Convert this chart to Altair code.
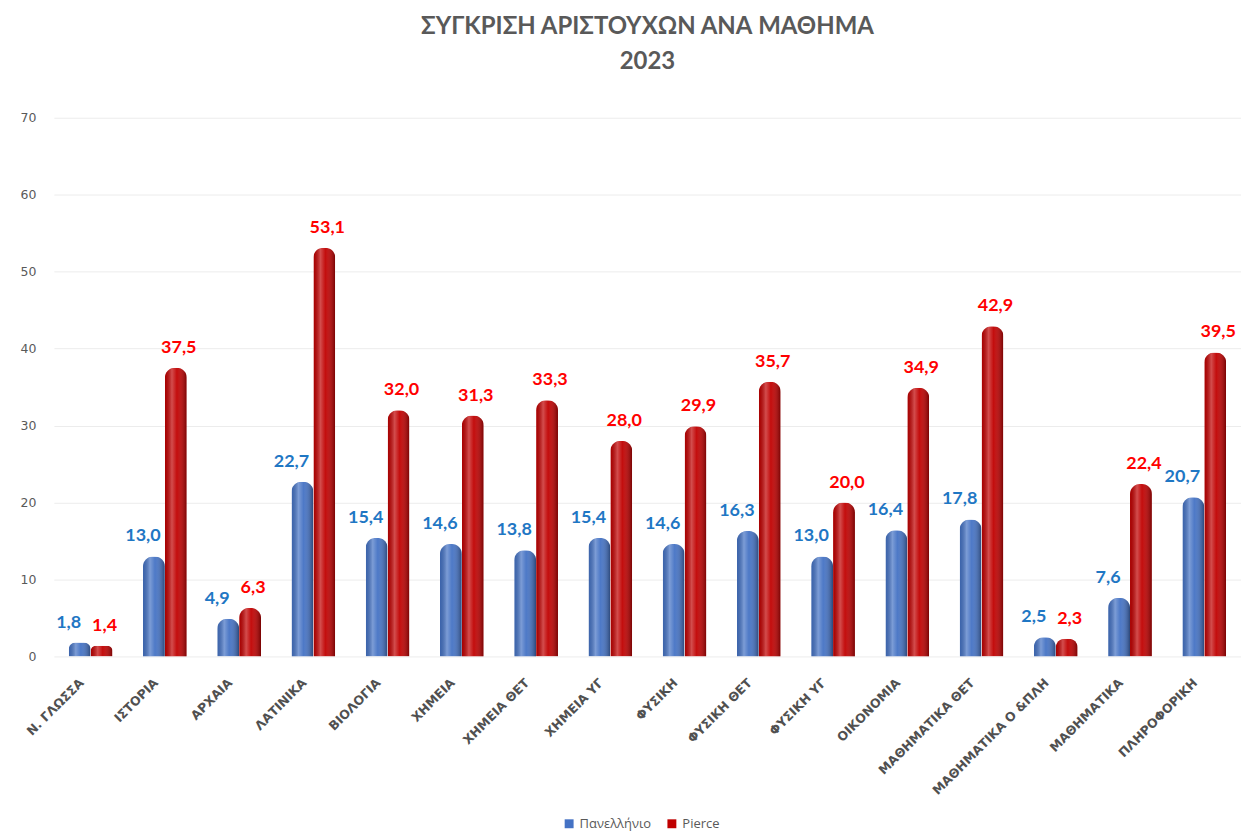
import altair as alt
import pandas as pd

categories = ["Ν. ΓΛΩΣΣΑ", "ΙΣΤΟΡΙΑ", "ΑΡΧΑΙΑ", "ΛΑΤΙΝΙΚΑ", "ΒΙΟΛΟΓΙΑ", "ΧΗΜΕΙΑ",
              "ΧΗΜΕΙΑ ΘΕΤ", "ΧΗΜΕΙΑ ΥΓ", "ΦΥΣΙΚΗ", "ΦΥΣΙΚΗ ΘΕΤ", "ΦΥΣΙΚΗ ΥΓ",
              "ΟΙΚΟΝΟΜΙΑ", "ΜΑΘΗΜΑΤΙΚΑ ΘΕΤ", "ΜΑΘΗΜΑΤΙΚΑ Ο &ΠΛΗ", "ΜΑΘΗΜΑΤΙΚΑ",
              "ΠΛΗΡΟΦΟΡΙΚΗ"]
panellinio = [1.8, 13.0, 4.9, 22.7, 15.4, 14.6, 13.8, 15.4, 14.6, 16.3, 13.0, 16.4, 17.8, 2.5, 7.6, 20.7]
pierce = [1.4, 37.5, 6.3, 53.1, 32.0, 31.3, 33.3, 28.0, 29.9, 35.7, 20.0, 34.9, 42.9, 2.3, 22.4, 39.5]
series_names = ["Πανελλήνιο", "Pierce"]
bar_colors = ["#4472C4", "#C00000"]
label_colors = ["#1F77C4", "#FF0000"]

rows = []
for i, c in enumerate(categories):
    rows.append({"cat": c, "series": series_names[0], "v": panellinio[i]})
    rows.append({"cat": c, "series": series_names[1], "v": pierce[i]})
df = pd.DataFrame(rows)

x_enc = alt.X("cat:N", sort=categories, title=None,
              scale=alt.Scale(paddingInner=0.41, paddingOuter=0.2),
              axis=alt.Axis(labelAngle=-45, labelAlign="right", labelBaseline="middle",
                            labelFont="DejaVu Sans", labelFontWeight="bold",
                            labelFontSize=12.5, labelColor="#505050", ticks=False,
                            domain=False, labelPadding=24, labelOffset=-9,
                            labelLimit=300))
y_enc = alt.Y("v:Q", title=None,
              scale=alt.Scale(domain=[0, 70]),
              axis=alt.Axis(values=[0, 10, 20, 30, 40, 50, 60, 70], ticks=False, domain=False,
                            labelFont="DejaVu Sans", labelFontSize=12.5, labelColor="#595959",
                            labelPadding=18, gridColor="#ececec"))
xo = alt.XOffset("series:N", sort=series_names, scale=alt.Scale(domain=series_names))

base = alt.Chart(df)

bars = base.mark_bar(cornerRadiusTopLeft=10, cornerRadiusTopRight=10).encode(
    x=x_enc, y=y_enc, xOffset=xo,
    color=alt.Color("series:N", sort=series_names,
                    scale=alt.Scale(domain=series_names, range=bar_colors),
                    legend=alt.Legend(title=None, orient="none", direction="horizontal",
                                      legendX=510, legendY=701,
                                      symbolType="square", symbolSize=80,
                                      labelFont="Open Sans", labelFontSize=13,
                                      labelColor="#595959", columnPadding=14,
                                      symbolStrokeWidth=0)),
)

shade = base.mark_bar(
    cornerRadiusTopLeft=10, cornerRadiusTopRight=10,
    fill=alt.Gradient(gradient="linear", x1=0, x2=1, y1=0, y2=0, stops=[
        alt.GradientStop(offset=0, color="rgba(0,0,0,0.12)"),
        alt.GradientStop(offset=0.32, color="rgba(255,255,255,0.30)"),
        alt.GradientStop(offset=0.55, color="rgba(255,255,255,0.05)"),
        alt.GradientStop(offset=1, color="rgba(0,0,0,0.38)"),
    ])
).encode(x=alt.X("cat:N", sort=categories), y="v:Q", xOffset=xo)

lab_calc = "replace(format(datum.v, '.1f'), '.', ',')"

labels_blue = base.mark_text(dy=-20, dx=-11, font="Lato", fontWeight="bold", fontSize=18,
                             color=label_colors[0]).transform_filter(
    alt.datum.series == series_names[0]
).transform_calculate(lab=lab_calc).encode(
    x=alt.X("cat:N", sort=categories), y="v:Q", xOffset=xo, text="lab:N",
)

labels_red = base.mark_text(dy=-20, dx=3, font="Lato", fontWeight="bold", fontSize=18,
                            color=label_colors[1]).transform_filter(
    alt.datum.series == series_names[1]
).transform_calculate(lab=lab_calc).encode(
    x=alt.X("cat:N", sort=categories), y="v:Q", xOffset=xo, text="lab:N",
)

chart = alt.layer(bars, shade, labels_blue, labels_red).properties(
    width=1190, height=540,
    padding={"left": 12, "top": 6, "right": 0, "bottom": 0},
    title=alt.TitleParams(["ΣΥΓΚΡΙΣΗ ΑΡΙΣΤΟΥΧΩΝ ΑΝΑ ΜΑΘΗΜΑ", "2023"], font="Lato",
                          fontSize=24, fontWeight="bold", color="#595959",
                          lineHeight=35, anchor="middle", offset=38),
).configure_view(stroke=None)

chart.save("out.html", embed_options={"renderer": "svg", "actions": False})
